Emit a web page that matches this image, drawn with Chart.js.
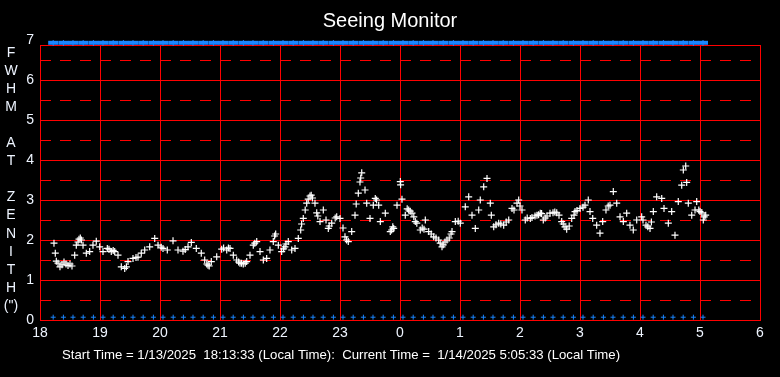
<!DOCTYPE html>
<html>
<head>
<meta charset="utf-8">
<script src="https://cdn.jsdelivr.net/npm/chart.js@4.4.1/dist/chart.umd.min.js"></script>
<style>
  html, body { margin: 0; padding: 0; background: #000; }
</style>
</head>
<body>
<canvas id="seeingChart" width="780" height="377"></canvas>
<script>
// Horas locales (después de medianoche se sigue contando: 24 = 0h, 29 = 5h)
const horas = [
  18.233, 18.255, 18.272, 18.300, 18.333, 18.367, 18.400, 18.433, 18.467, 18.500,
  18.533, 18.578, 18.605, 18.633, 18.650, 18.672, 18.690, 18.717, 18.772, 18.828,
  18.883, 18.938, 18.995, 19.050, 19.122, 19.150, 19.188, 19.220, 19.245, 19.300,
  19.355, 19.412, 19.440, 19.467, 19.550, 19.600, 19.633, 19.688, 19.745, 19.828,
  19.912, 19.967, 20.020, 20.050, 20.122, 20.217, 20.300, 20.383, 20.420, 20.467,
  20.522, 20.605, 20.688, 20.745, 20.780, 20.800, 20.820, 20.855, 20.945, 21.028,
  21.060, 21.112, 21.140, 21.167, 21.222, 21.278, 21.310, 21.333, 21.360, 21.388,
  21.420, 21.445, 21.500, 21.555, 21.580, 21.612, 21.667, 21.722, 21.778, 21.833,
  21.888, 21.910, 21.928, 21.972, 22.028, 22.060, 22.083, 22.100, 22.138, 22.195,
  22.250, 22.305, 22.345, 22.360, 22.388, 22.420, 22.445, 22.470, 22.500, 22.520,
  22.542, 22.583, 22.612, 22.630, 22.667, 22.722, 22.767, 22.805, 22.820, 22.862,
  22.920, 22.945, 23.000, 23.050, 23.083, 23.110, 23.138, 23.195, 23.250, 23.270,
  23.305, 23.333, 23.345, 23.362, 23.417, 23.445, 23.500, 23.555, 23.588, 23.610,
  23.645, 23.672, 23.755, 23.838, 23.860, 23.880, 23.895, 23.950, 24.005, 24.010,
  24.033, 24.088, 24.120, 24.145, 24.170, 24.200, 24.230, 24.255, 24.280, 24.338,
  24.370, 24.400, 24.422, 24.478, 24.520, 24.562, 24.600, 24.645, 24.670, 24.700,
  24.720, 24.750, 24.783, 24.820, 24.850, 24.867, 24.922, 24.970, 25.005, 25.088,
  25.145, 25.200, 25.255, 25.312, 25.338, 25.395, 25.450, 25.505, 25.522, 25.562,
  25.600, 25.645, 25.680, 25.728, 25.770, 25.812, 25.867, 25.900, 25.950, 25.978,
  26.000, 26.033, 26.088, 26.120, 26.172, 26.200, 26.250, 26.283, 26.310, 26.338,
  26.360, 26.388, 26.420, 26.450, 26.500, 26.550, 26.580, 26.612, 26.650, 26.695,
  26.720, 26.750, 26.778, 26.820, 26.862, 26.900, 26.917, 26.950, 27.000, 27.050,
  27.083, 27.138, 27.167, 27.212, 27.278, 27.333, 27.378, 27.433, 27.470, 27.500,
  27.555, 27.612, 27.667, 27.722, 27.778, 27.833, 27.888, 27.945, 28.028, 28.050,
  28.100, 28.130, 28.167, 28.190, 28.222, 28.278, 28.362, 28.400, 28.472, 28.528,
  28.583, 28.638, 28.695, 28.722, 28.762, 28.778, 28.805, 28.862, 28.917, 28.945,
  28.980, 29.000, 29.030, 29.055, 29.070, 29.095
];

// FWHM en el cenit (segundos de arco)
const fwhm = [
  1.92, 1.67, 1.47, 1.42, 1.33, 1.38, 1.45, 1.40, 1.36, 1.40,
  1.35, 1.62, 1.87, 1.95, 2.02, 2.05, 2.00, 1.87, 1.67, 1.71,
  1.87, 1.97, 1.83, 1.71, 1.79, 1.77, 1.71, 1.74, 1.71, 1.62,
  1.33, 1.29, 1.33, 1.46, 1.54, 1.56, 1.57, 1.67, 1.75, 1.83,
  2.04, 1.87, 1.82, 1.79, 1.75, 1.98, 1.75, 1.72, 1.76, 1.83,
  1.94, 1.79, 1.67, 1.50, 1.40, 1.37, 1.35, 1.46, 1.58, 1.77,
  1.80, 1.75, 1.80, 1.79, 1.62, 1.50, 1.45, 1.42, 1.42, 1.40,
  1.42, 1.46, 1.62, 1.87, 1.92, 1.96, 1.71, 1.50, 1.54, 1.75,
  1.96, 2.10, 2.15, 1.87, 1.71, 1.78, 1.83, 1.90, 1.96, 1.75,
  1.79, 2.04, 2.25, 2.40, 2.54, 2.75, 2.92, 3.02, 3.10, 3.12,
  3.05, 2.92, 2.68, 2.60, 2.46, 2.75, 2.50, 2.29, 2.35, 2.42,
  2.55, 2.58, 2.54, 2.30, 2.08, 2.00, 1.96, 2.21, 2.62, 2.90,
  3.17, 3.45, 3.55, 3.68, 3.25, 2.92, 2.54, 2.87, 3.04, 3.00,
  2.87, 2.46, 2.67, 2.21, 2.25, 2.33, 2.29, 2.87, 3.46, 3.38,
  3.02, 2.62, 2.78, 2.75, 2.72, 2.67, 2.58, 2.46, 2.42, 2.25,
  2.30, 2.27, 2.50, 2.21, 2.15, 2.08, 2.05, 2.00, 1.92, 1.83,
  1.88, 1.95, 2.00, 2.05, 2.15, 2.21, 2.46, 2.47, 2.42, 2.83,
  3.08, 2.62, 2.29, 2.75, 3.00, 3.33, 3.54, 2.92, 2.62, 2.33,
  2.38, 2.42, 2.40, 2.37, 2.45, 2.50, 2.79, 2.75, 2.92, 3.00,
  2.85, 2.75, 2.50, 2.55, 2.54, 2.56, 2.60, 2.62, 2.63, 2.67,
  2.66, 2.50, 2.55, 2.60, 2.67, 2.68, 2.70, 2.68, 2.62, 2.46,
  2.40, 2.33, 2.27, 2.35, 2.54, 2.62, 2.71, 2.74, 2.79, 2.82,
  2.87, 3.00, 2.71, 2.54, 2.37, 2.17, 2.46, 2.75, 2.85, 2.87,
  3.21, 2.92, 2.58, 2.46, 2.67, 2.37, 2.25, 2.50, 2.58, 2.50,
  2.37, 2.33, 2.29, 2.45, 2.71, 3.08, 3.04, 2.79, 2.42, 2.71,
  2.12, 2.96, 3.37, 3.75, 3.85, 3.44, 2.92, 2.62, 2.75, 2.96,
  2.75, 2.71, 2.68, 2.50, 2.58, 2.62
];

// Marcas azules de muestreo (cada ~10 min)
const horasMuestreo = [
  18.22, 18.39, 18.55, 18.72, 18.89, 19.05, 19.22, 19.39, 19.55, 19.72,
  19.89, 20.05, 20.22, 20.39, 20.55, 20.72, 20.89, 21.05, 21.22, 21.39,
  21.55, 21.72, 21.89, 22.05, 22.22, 22.39, 22.55, 22.72, 22.89, 23.05,
  23.22, 23.39, 23.55, 23.72, 23.89, 24.05, 24.22, 24.39, 24.55, 24.72,
  24.89, 25.05, 25.22, 25.39, 25.55, 25.72, 25.89, 26.05, 26.22, 26.39,
  26.55, 26.72, 26.89, 27.05, 27.22, 27.39, 27.55, 27.72, 27.89, 28.05,
  28.22, 28.39, 28.55, 28.72, 28.89, 29.05
];
const nivelSuperior = 6.93;
const nivelInferior = 0.07;

const xMin = 18, xMax = 30;
const yMin = 0, yMax = 7, yMarco = 6.875;
const etiquetaY = ['F', 'W', 'H', 'M', '', 'A', 'T', '', 'Z', 'E', 'N', 'I', 'T', 'H', '(")'];
const titulo = 'Seeing Monitor';
const textoPie = 'Start Time = 1/13/2025  18:13:33 (Local Time):  Current Time =  1/14/2025 5:05:33 (Local Time)';

const ROJO = '#ff0000';
const AZUL = '#1a86ff';
const TEXTO = '#eef4ff';
const FUENTE = '"Liberation Sans", Arial, sans-serif';

// Fondo, rejilla, marco y textos
const pluginFondo = {
    id: 'fondo',
    beforeDraw(chart) {
        const ctx = chart.ctx;
        ctx.save();
        ctx.fillStyle = '#000';
        ctx.fillRect(0, 0, chart.width, chart.height);
        ctx.restore();
    },
    beforeDatasetsDraw(chart) {
        const ctx = chart.ctx;
        const xs = chart.scales.x, ys = chart.scales.y;
        const l = Math.round(xs.getPixelForValue(xMin)) + 0.5;
        const r = Math.round(xs.getPixelForValue(xMax)) + 0.5;
        const t = Math.round(ys.getPixelForValue(yMarco)) + 0.5;
        const b = Math.round(ys.getPixelForValue(yMin)) + 0.5;
        ctx.save();
        ctx.strokeStyle = ROJO;
        ctx.lineWidth = 1;
        // verticales: una por hora
        xs.ticks.forEach(tk => {
            const x = Math.round(xs.getPixelForValue(tk.value)) + 0.5;
            ctx.beginPath();
            ctx.moveTo(x, t);
            ctx.lineTo(x, b);
            ctx.stroke();
        });
        // horizontales: enteras continuas, medias discontinuas
        ys.ticks.forEach(tk => {
            if (tk.value >= yMarco || tk.value <= yMin) return;
            const y = Math.round(ys.getPixelForValue(tk.value)) + 0.5;
            ctx.setLineDash(Number.isInteger(tk.value) ? [] : [11, 9]);
            ctx.beginPath();
            ctx.moveTo(l - 0.5, y);
            ctx.lineTo(r, y);
            ctx.stroke();
        });
        ctx.setLineDash([]);
        ctx.strokeRect(l, t, r - l, b - t);
        ctx.restore();
    },
    afterDraw(chart) {
        const ctx = chart.ctx;
        ctx.save();
        ctx.fillStyle = '#ffffff';
        ctx.textAlign = 'center';
        ctx.textBaseline = 'middle';
        ctx.font = '20px ' + FUENTE;
        ctx.fillText(titulo, 390, 21);

        ctx.fillStyle = TEXTO;
        ctx.font = '14px ' + FUENTE;
        etiquetaY.forEach((letra, i) => {
            ctx.fillText(letra, 11, 53 + i * 18.07);
        });

        ctx.fillStyle = '#ffffff';
        ctx.textAlign = 'left';
        ctx.font = '13.2px ' + FUENTE;
        ctx.fillText(textoPie, 62, 355);
        ctx.restore();
    }
};

const ctx = document.getElementById('seeingChart');
new Chart(ctx, {
    type: 'scatter',
    data: {
        datasets: [
            {
                label: 'FWHM',
                data: horas.map((h, i) => ({ x: h, y: fwhm[i] })),
                pointStyle: 'cross',
                pointRadius: 3.5,
                borderWidth: 1.2,
                borderColor: '#ffffff',
                backgroundColor: '#ffffff'
            },
            {
                label: 'Muestreo inferior',
                data: horasMuestreo.map(h => ({ x: h, y: nivelInferior })),
                pointStyle: 'cross',
                pointRadius: 2.5,
                borderWidth: 1,
                borderColor: AZUL,
                backgroundColor: AZUL
            },
            {
                label: 'Muestreo superior',
                data: horasMuestreo.map(h => ({ x: h, y: nivelSuperior })),
                pointStyle: 'line',
                pointRadius: 5,
                borderWidth: 4,
                borderColor: AZUL,
                backgroundColor: AZUL
            },
            {
                label: 'Muestreo superior (cruces)',
                data: horasMuestreo.map(h => ({ x: h, y: nivelSuperior })),
                pointStyle: 'cross',
                pointRadius: 3,
                borderWidth: 1,
                borderColor: AZUL,
                backgroundColor: AZUL
            }
        ]
    },
    options: {
        responsive: false,
        animation: false,
        events: [],
        layout: { padding: { top: 40, right: 20, left: 0, bottom: 0 } },
        scales: {
            x: {
                type: 'linear',
                min: xMin,
                max: xMax,
                afterFit: scale => { scale.height = 57; },
                ticks: {
                    stepSize: 1,
                    color: TEXTO,
                    padding: 5,
                    font: { size: 14, family: FUENTE },
                    callback: v => v % 24
                },
                grid: { display: false, drawTicks: false },
                border: { display: false }
            },
            y: {
                min: yMin,
                max: yMax,
                afterFit: scale => { scale.width = 40; },
                ticks: {
                    stepSize: 0.5,
                    color: TEXTO,
                    padding: 6,
                    font: { size: 14, family: FUENTE },
                    callback: v => Number.isInteger(v) ? v : ''
                },
                grid: { display: false, drawTicks: false },
                border: { display: false }
            }
        },
        plugins: {
            legend: { display: false },
            tooltip: { enabled: false },
            title: { display: false }
        }
    },
    plugins: [pluginFondo]
});
</script>
</body>
</html>
